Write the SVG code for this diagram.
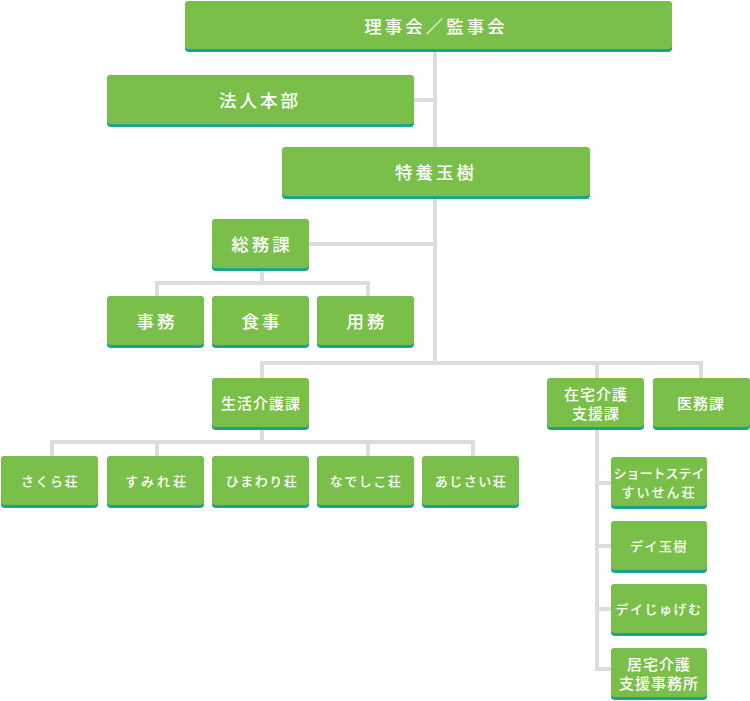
<svg xmlns="http://www.w3.org/2000/svg" width="750" height="701" viewBox="0 0 750 701">
<style>
.ln{fill:none;stroke:#dcdcdc;stroke-width:4;stroke-linejoin:miter}
.sh{fill:#1ba48a}
.bx{fill:#7bbf4b}
text{fill:#ffffff;font-family:"Noto Sans CJK JP","Noto Sans",sans-serif;font-weight:500;text-anchor:middle;dominant-baseline:central}
.l{font-size:17.5px;letter-spacing:3px}
.m{font-size:15px;letter-spacing:1px}
.s{font-size:13px;letter-spacing:1.5px}
</style>
<rect width="750" height="701" fill="#ffffff"/>
<g id="connectors">
<path class="ln" d="M435 50V363"/>
<path class="ln" d="M412 100H435"/>
<path class="ln" d="M307 244H435"/>
<path class="ln" d="M262 269V283M157 298V283H368V298"/>
<path class="ln" d="M262 380V363H701V380M597 363V380"/>
<path class="ln" d="M262 428V442M52 458V442H473V458M157 442V458M368 442V458"/>
<path class="ln" d="M597 428V669H613M597 483H613M597 546H613M597 609H613"/>
</g>
<g id="n-riji"><rect class="sh" x="185" y="1" width="487" height="51" rx="4"/><rect class="bx" x="185" y="1" width="487" height="48" rx="4"/><text class="l" x="436" y="25">理事会／監事会</text></g>
<g id="n-hojin"><rect class="sh" x="107" y="75" width="307" height="52" rx="4"/><rect class="bx" x="107" y="75" width="307" height="49" rx="4"/><text class="l" x="260" y="99.5">法人本部</text></g>
<g id="n-tokuyo"><rect class="sh" x="282" y="147" width="308" height="52" rx="4"/><rect class="bx" x="282" y="147" width="308" height="49" rx="4"/><text class="l" x="436" y="171.5">特養玉樹</text></g>
<g id="n-somu"><rect class="sh" x="212" y="219" width="97" height="52" rx="4"/><rect class="bx" x="212" y="219" width="97" height="49" rx="4"/><text class="l" x="262" y="243.5">総務課</text></g>
<g id="n-jimu"><rect class="sh" x="107" y="296" width="97" height="52" rx="4"/><rect class="bx" x="107" y="296" width="97" height="49" rx="4"/><text class="l" x="157" y="320.5">事務</text></g>
<g id="n-shokuji"><rect class="sh" x="212" y="296" width="97" height="52" rx="4"/><rect class="bx" x="212" y="296" width="97" height="49" rx="4"/><text class="l" x="262" y="320.5">食事</text></g>
<g id="n-yomu"><rect class="sh" x="317" y="296" width="97" height="52" rx="4"/><rect class="bx" x="317" y="296" width="97" height="49" rx="4"/><text class="l" x="367" y="320.5">用務</text></g>
<g id="n-seikatsu"><rect class="sh" x="212" y="378" width="97" height="52" rx="4"/><rect class="bx" x="212" y="378" width="97" height="49" rx="4"/><text class="m" x="261" y="402.5">生活介護課</text></g>
<g id="n-zaitaku"><rect class="sh" x="547" y="378" width="97" height="52" rx="4"/><rect class="bx" x="547" y="378" width="97" height="49" rx="4"/><text class="m" x="596" y="393.5">在宅介護</text><text class="m" x="596" y="412.5">支援課</text></g>
<g id="n-imu"><rect class="sh" x="653" y="378" width="97" height="52" rx="4"/><rect class="bx" x="653" y="378" width="97" height="49" rx="4"/><text class="m" x="701" y="402.5">医務課</text></g>
<g id="n-sakura"><rect class="sh" x="1" y="456" width="97" height="52" rx="4"/><rect class="bx" x="1" y="456" width="97" height="49" rx="4"/><text class="s" x="50" y="480.5">さくら荘</text></g>
<g id="n-sumire"><rect class="sh" x="107" y="456" width="97" height="52" rx="4"/><rect class="bx" x="107" y="456" width="97" height="49" rx="4"/><text class="s" x="157" y="480.5" style="letter-spacing:3px">すみれ荘</text></g>
<g id="n-himawari"><rect class="sh" x="212" y="456" width="97" height="52" rx="4"/><rect class="bx" x="212" y="456" width="97" height="49" rx="4"/><text class="s" x="262" y="480.5">ひまわり荘</text></g>
<g id="n-nadeshiko"><rect class="sh" x="317" y="456" width="97" height="52" rx="4"/><rect class="bx" x="317" y="456" width="97" height="49" rx="4"/><text class="s" x="366" y="480.5">なでしこ荘</text></g>
<g id="n-ajisai"><rect class="sh" x="422" y="456" width="97" height="52" rx="4"/><rect class="bx" x="422" y="456" width="97" height="49" rx="4"/><text class="s" x="471" y="480.5">あじさい荘</text></g>
<g id="n-short"><rect class="sh" x="611" y="457" width="96" height="52" rx="4"/><rect class="bx" x="611" y="457" width="96" height="49" rx="4"/><text class="s" x="659" y="472" style="letter-spacing:0px">ショートステイ</text><text class="s" x="659" y="491" style="letter-spacing:2px">すいせん荘</text></g>
<g id="n-daytamaki"><rect class="sh" x="611" y="521" width="96" height="52" rx="4"/><rect class="bx" x="611" y="521" width="96" height="49" rx="4"/><text class="s" x="659" y="545.5">デイ玉樹</text></g>
<g id="n-dayjugemu"><rect class="sh" x="611" y="584" width="96" height="52" rx="4"/><rect class="bx" x="611" y="584" width="96" height="49" rx="4"/><text class="s" x="659" y="608.5">デイじゅげむ</text></g>
<g id="n-kyotaku"><rect class="sh" x="611" y="648" width="96" height="52" rx="4"/><rect class="bx" x="611" y="648" width="96" height="49" rx="4"/><text class="m" x="659" y="663">居宅介護</text><text class="m" x="659" y="682">支援事務所</text></g>
</svg>
